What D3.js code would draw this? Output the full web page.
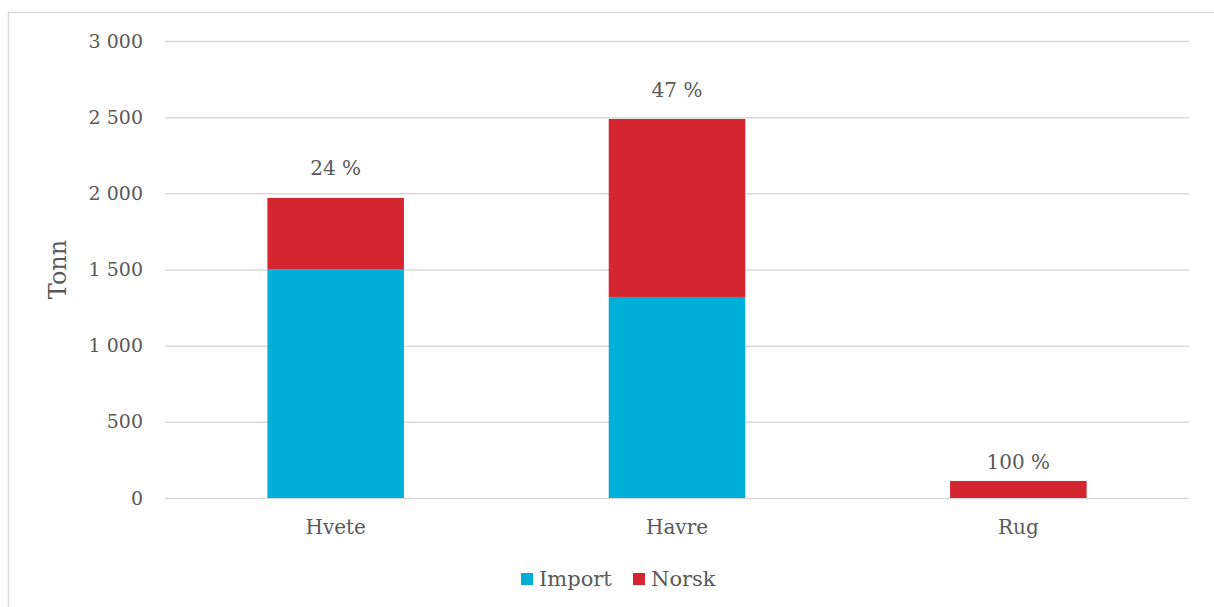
<!DOCTYPE html>
<html>
<head>
<meta charset="utf-8">
<script src="https://cdn.jsdelivr.net/npm/d3@7"></script>
<style>
  body { margin: 0; background: #fff; }
  text { font-family: "DejaVu Serif", Georgia, serif; fill: #595959; }
</style>
</head>
<body>
<div id="chart"></div>
<script>
const categories = ["Hvete", "Havre", "Rug"]
const importValues = [1500, 1320, 0]
const norskValues = [470, 1168, 112]
const pctLabels = ["24 %", "47 %", "100 %"]
const pctLabelAt = [2166, 2678, 236]
const yTicks = [0, 500, 1000, 1500, 2000, 2500, 3000]
const seriesNames = ["Import", "Norsk"]
const colors = ["#00afd8", "#d52530"]

const width = 1214
const height = 607

const svg = d3.select('#chart')
    .append('svg')
        .attr('width', width)
        .attr('height', height)

// outer frame (right / bottom run off the picture)
svg.append('rect')
    .attr('x', 8.5).attr('y', 12.5)
    .attr('width', 1300).attr('height', 700)
    .attr('fill', 'none')
    .attr('stroke', '#d9d9d9')
    .attr('stroke-width', 1.5)

const plotLeft = 165, plotRight = 1189, plotTop = 41, plotBottom = 498

const yScale = d3.scaleLinear()
    .domain([0, 3000])
    .range([plotBottom, plotTop])

const xScale = d3.scaleBand()
    .domain(categories)
    .range([plotLeft, plotRight])
    .paddingInner(0.6)
    .paddingOuter(0.3)

const fmt = v => d3.format(',')(v).replace(/,/g, '\u00a0')

// grid
svg.append('g')
    .attr('transform', 'translate(' + plotLeft + ',0)')
    .call(d3.axisLeft(yScale)
        .tickValues(yTicks)
        .tickSize(-(plotRight - plotLeft))
        .tickFormat(''))
    .call(g => g.select('.domain').remove())
    .call(g => g.selectAll('line').attr('stroke', '#d9d9d9').attr('stroke-width', 1.5))

// y labels
svg.append('g')
    .selectAll('text')
    .data(yTicks)
    .enter()
    .append('text')
        .attr('x', 143)
        .attr('y', d => yScale(d))
        .attr('dy', '0.35em')
        .attr('text-anchor', 'end')
        .style('font-size', '19px')
        .text(d => fmt(d))

const stacked = categories.map((c, i) => ({ name: c, imp: importValues[i], nor: norskValues[i], pct: pctLabels[i], at: pctLabelAt[i] }))

// bars
const bars = svg.append('g')
bars.selectAll('.imp')
    .data(stacked)
    .enter()
    .append('rect')
        .attr('x', d => xScale(d.name))
        .attr('y', d => yScale(d.imp))
        .attr('width', xScale.bandwidth())
        .attr('height', d => yScale(0) - yScale(d.imp))
        .attr('fill', colors[0])
bars.selectAll('.nor')
    .data(stacked)
    .enter()
    .append('rect')
        .attr('x', d => xScale(d.name))
        .attr('y', d => yScale(d.imp + d.nor))
        .attr('width', xScale.bandwidth())
        .attr('height', d => yScale(d.imp) - yScale(d.imp + d.nor))
        .attr('fill', colors[1])

// percent labels
svg.append('g')
    .selectAll('text')
    .data(stacked)
    .enter()
    .append('text')
        .attr('x', d => xScale(d.name) + xScale.bandwidth() / 2)
        .attr('y', d => yScale(d.at))
        .attr('dy', '0.35em')
        .attr('text-anchor', 'middle')
        .style('font-size', '20px')
        .text(d => d.pct)

// category labels
svg.append('g')
    .selectAll('text')
    .data(categories)
    .enter()
    .append('text')
        .attr('x', d => xScale(d) + xScale.bandwidth() / 2)
        .attr('y', 534)
        .attr('text-anchor', 'middle')
        .style('font-size', '20px')
        .text(d => d)

// y title
svg.append('text')
    .attr('transform', 'translate(66,' + ((plotTop + plotBottom) / 2) + ') rotate(-90)')
    .attr('text-anchor', 'middle')
    .style('font-size', '24px')
    .text('Tonn')

// legend
const legendX = [521, 633]
const legend = svg.append('g')
    .selectAll('g')
    .data(seriesNames)
    .enter()
    .append('g')
        .attr('transform', (d, i) => 'translate(' + legendX[i] + ',573)')
legend.append('rect')
    .attr('width', 12).attr('height', 12)
    .attr('fill', (d, i) => colors[i])
legend.append('text')
    .attr('x', 18)
    .attr('y', 13)
    .style('font-size', '21px')
    .text(d => d)
</script>
</body>
</html>
